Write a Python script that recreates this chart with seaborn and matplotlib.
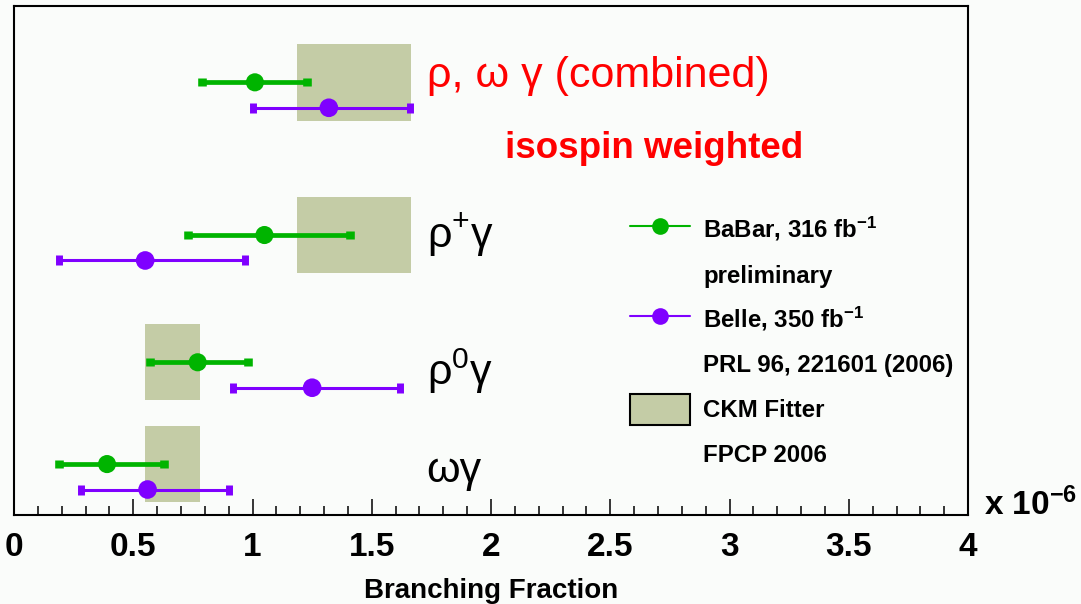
import matplotlib
matplotlib.use("Agg")
import matplotlib.pyplot as plt
from matplotlib.lines import Line2D
from matplotlib.patches import Patch
from matplotlib.ticker import MultipleLocator, FuncFormatter
import pandas as pd
import seaborn as sns

# Radiative penguin branching fractions (units of 1e-6)
channels = ["rho_omega_gamma", "rho_plus_gamma", "rho_zero_gamma", "omega_gamma"]
row_y = [1.5, 4.5, 7.0, 9.0]

babar_value = [1.01, 1.05, 0.77, 0.39]
babar_low = [0.79, 0.73, 0.57, 0.19]
babar_high = [1.23, 1.41, 0.98, 0.63]

belle_value = [1.32, 0.55, 1.25, 0.56]
belle_low = [1.00, 0.19, 0.92, 0.28]
belle_high = [1.66, 0.97, 1.62, 0.90]

ckm_low = [1.185, 1.185, 0.55, 0.55]
ckm_high = [1.665, 1.665, 0.78, 0.78]

channel_labels = ["ρ, ω γ (combined)", "ρ$^{+}$γ", "ρ$^{0}$γ", "ωγ"]
channel_colors = ["#ff0000", "#000000", "#000000", "#000000"]
legend_labels = ["BaBar, 316 fb$^{\\mathbf{-1}}$", "preliminary",
                 "Belle, 350 fb$^{\\mathbf{-1}}$", "PRL 96, 221601 (2006)",
                 "CKM Fitter", "FPCP 2006"]

GREEN = "#00b400"
PURPLE = "#7f00ff"
BOX = "#c4cca6"
BG = "#fafcfa"
BELLE_OFFSET = 0.5

sns.set_theme(style="white")
plt.rcParams["font.family"] = ["Liberation Sans", "DejaVu Sans"]
plt.rcParams["text.color"] = "black"
plt.rcParams["mathtext.fontset"] = "custom"
plt.rcParams["mathtext.rm"] = "Liberation Sans"
plt.rcParams["mathtext.it"] = "Liberation Sans:italic"
plt.rcParams["mathtext.bf"] = "Liberation Sans:bold"

df = pd.DataFrame({
    "channel": channels,
    "y": row_y,
    "babar": babar_value, "babar_lo": babar_low, "babar_hi": babar_high,
    "belle": belle_value, "belle_lo": belle_low, "belle_hi": belle_high,
    "ckm_lo": ckm_low, "ckm_hi": ckm_high,
})
df["belle_y"] = df["y"] + BELLE_OFFSET

fig = plt.figure(figsize=(10.81, 6.04), dpi=100, facecolor=BG)
ax = fig.add_axes([0.01295, 0.1474, 0.8826, 0.8427])
ax.set_facecolor(BG)

# CKM fitter prediction bands
ax.barh(df["y"], df["ckm_hi"] - df["ckm_lo"], left=df["ckm_lo"], height=1.5,
        color=BOX, edgecolor="none", zorder=1)

# Error bars with square caps
ax.errorbar(df["babar"], df["y"],
            xerr=[df["babar"] - df["babar_lo"], df["babar_hi"] - df["babar"]],
            fmt="none", ecolor=GREEN, elinewidth=3.4, capsize=3.1, capthick=6.2,
            zorder=2)
ax.errorbar(df["belle"], df["belle_y"],
            xerr=[df["belle"] - df["belle_lo"], df["belle_hi"] - df["belle"]],
            fmt="none", ecolor=PURPLE, elinewidth=2.2, capsize=3.3, capthick=5.0,
            zorder=2)

# Central values
sns.scatterplot(data=df, x="babar", y="y", color=GREEN, s=170, edgecolor="none",
                ax=ax, zorder=3, legend=False)
sns.scatterplot(data=df, x="belle", y="belle_y", color=PURPLE, s=180,
                edgecolor="none", ax=ax, zorder=3, legend=False)

ax.set_xlim(0, 4)
ax.set_ylim(10, 0)

# Channel names
label_x = 1.73
label_base = [1.59, 4.75, 7.45, 9.35]
for text, color, yb in zip(channel_labels, channel_colors, label_base):
    ax.text(label_x, yb, text, color=color, fontsize=31, va="baseline",
            ha="left", zorder=4)
ax.text(2.06, 2.99, "isospin weighted", color="#ff0000", fontsize=26.5,
        fontweight="bold", va="baseline", ha="left", zorder=4)

# Legend
blank = Line2D([], [], linestyle="none")
handles = [
    Line2D([0], [0], color=GREEN, lw=1.5, marker="o", markersize=12,
           markeredgewidth=0),
    blank,
    Line2D([0], [0], color=PURPLE, lw=1.5, marker="o", markersize=12,
           markeredgewidth=0),
    blank,
    Patch(facecolor=BOX, edgecolor="black", linewidth=1.5),
    blank,
]
ax.legend(handles, legend_labels, loc="upper left",
          bbox_to_anchor=(0.6457, 0.591), frameon=False, borderpad=0,
          borderaxespad=0, handlelength=2.5, handleheight=1.65,
          handletextpad=0.55, labelspacing=0.55, numpoints=1,
          labelcolor="black",
          prop={"family": "Liberation Sans", "weight": "bold", "size": 17.3})

# Axes frame and ticks
for side in ["top", "bottom", "left", "right"]:
    ax.spines[side].set_visible(True)
    ax.spines[side].set_color("black")
    ax.spines[side].set_linewidth(1.5)
ax.xaxis.set_major_locator(MultipleLocator(0.5))
ax.xaxis.set_minor_locator(MultipleLocator(0.1))
ax.xaxis.set_major_formatter(FuncFormatter(lambda v, p: f"{v:g}"))
ax.tick_params(axis="x", which="major", direction="in", length=11.5, width=1.1,
               color="black", bottom=True, top=False, pad=12,
               labelsize=24, labelcolor="black")
ax.tick_params(axis="x", which="minor", direction="in", length=6.5, width=1.1,
               color="black", bottom=True, top=False)
for lbl in ax.get_xticklabels():
    lbl.set_fontweight("bold")
ax.tick_params(axis="y", left=False, right=False, labelleft=False)
ax.set_ylabel("")
ax.set_xlabel("Branching Fraction", fontsize=20, fontweight="bold",
              color="black", labelpad=11)

ax.text(1.017, 0.0, "x 10$^{\\mathbf{-6}}$", transform=ax.transAxes,
        fontsize=24, fontweight="bold", va="baseline", ha="left",
        color="black")

fig.savefig("out.png", dpi=100, facecolor=BG)
